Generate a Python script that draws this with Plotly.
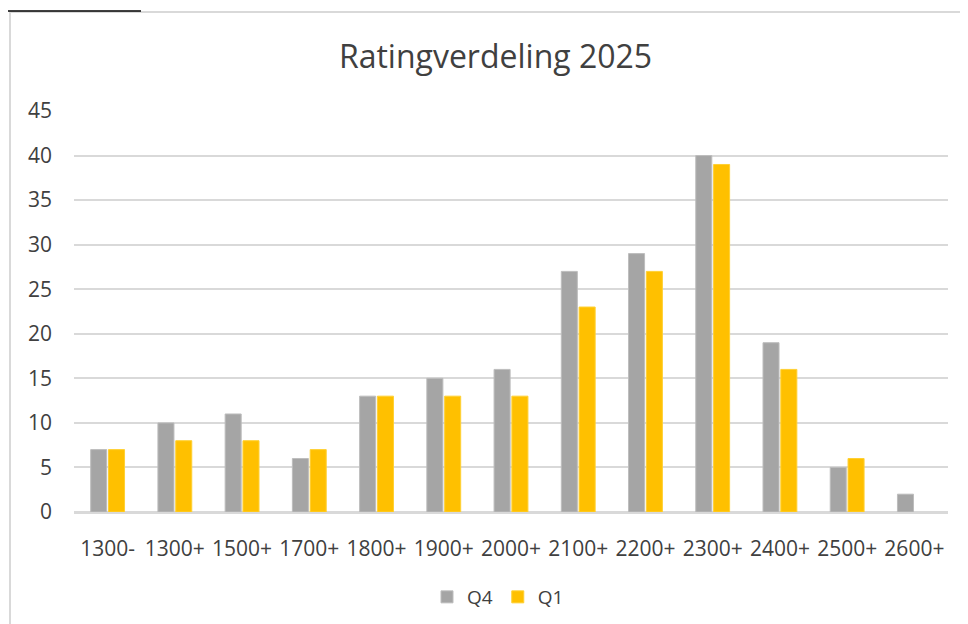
import plotly.graph_objects as go

categories = ["1300-", "1300+", "1500+", "1700+", "1800+", "1900+", "2000+",
              "2100+", "2200+", "2300+", "2400+", "2500+", "2600+"]
q4_values = [7, 10, 11, 6, 13, 15, 16, 27, 29, 40, 19, 5, 2]
q1_values = [7, 8, 8, 7, 13, 13, 13, 23, 27, 39, 16, 6, None]
series_names = ["Q4", "Q1"]
title_text = "Ratingverdeling 2025"

# page body has an 8px margin; figure coordinates are screen minus 8
OFF = 8
W, H = 968 - OFF, 624 - OFF
PX0, PX1 = 74 - OFF, 948 - OFF      # plot area x in figure px
PY0, PY1 = 111 - OFF, 512 - OFF     # plot area y in figure px
L, R, T, B = PX0, W - PX1, PY0, H - PY1
PW, PH = PX1 - PX0, PY1 - PY0


def px_x(sx):
    return (sx - OFF - PX0) / PW


def px_y(sy):
    return (PY1 - (sy - OFF)) / PH


fig = go.Figure()
fig.add_trace(go.Bar(x=categories, y=q4_values, name=series_names[0],
                     marker=dict(color="#A5A5A5", line=dict(color="#BDBDBD", width=1))))
fig.add_trace(go.Bar(x=categories, y=q1_values, name=series_names[1],
                     marker=dict(color="#FFC000", line=dict(color="#FFD033", width=1))))

font_family = "Open Sans, Liberation Sans, sans-serif"
txt = "#404040"
fig.update_layout(
    width=W, height=H,
    margin=dict(l=L, r=R, t=T, b=B, pad=0, autoexpand=False),
    paper_bgcolor="white", plot_bgcolor="white",
    barmode="group", bargap=0.47, bargroupgap=0.1,
    title=dict(text=title_text, x=(495.5 - OFF) / W, xanchor="center",
               y=1 - (57 - OFF) / H, yanchor="middle",
               font=dict(family=font_family, size=32, color=txt)),
    font=dict(family=font_family, size=21, color=txt),
    showlegend=True,
    legend=dict(orientation="h", x=(498 - OFF) / W, xanchor="center", xref="container",
                y=1 - (597 - OFF) / H, yanchor="middle", yref="container",
                font=dict(size=19, color=txt),
                itemwidth=30, traceorder="normal"),
    xaxis=dict(showgrid=False, showline=True, linecolor="#D9D9D9", linewidth=1.5,
               ticks="", ticklabelstandoff=17, automargin=False,
               tickfont=dict(size=21, color=txt)),
    yaxis=dict(range=[0, 45], dtick=5, showgrid=True, gridcolor="#D9D9D9",
               gridwidth=1.5, zeroline=True, zerolinecolor="#D9D9D9", zerolinewidth=1.5,
               showline=False, ticks="", ticklabelstandoff=21, automargin=False,
               tickfont=dict(size=21, color=txt)),
)

# chart area border and top marker line
fig.add_shape(type="rect", xref="paper", yref="paper",
              x0=px_x(10), x1=px_x(990),
              y0=px_y(650), y1=px_y(12),
              line=dict(color="#D9D9D9", width=2), layer="below")
fig.add_shape(type="line", xref="paper", yref="paper",
              x0=px_x(8), x1=px_x(141),
              y0=px_y(11), y1=px_y(11),
              line=dict(color="#000000", width=1.5))

fig.write_html("out.html")
